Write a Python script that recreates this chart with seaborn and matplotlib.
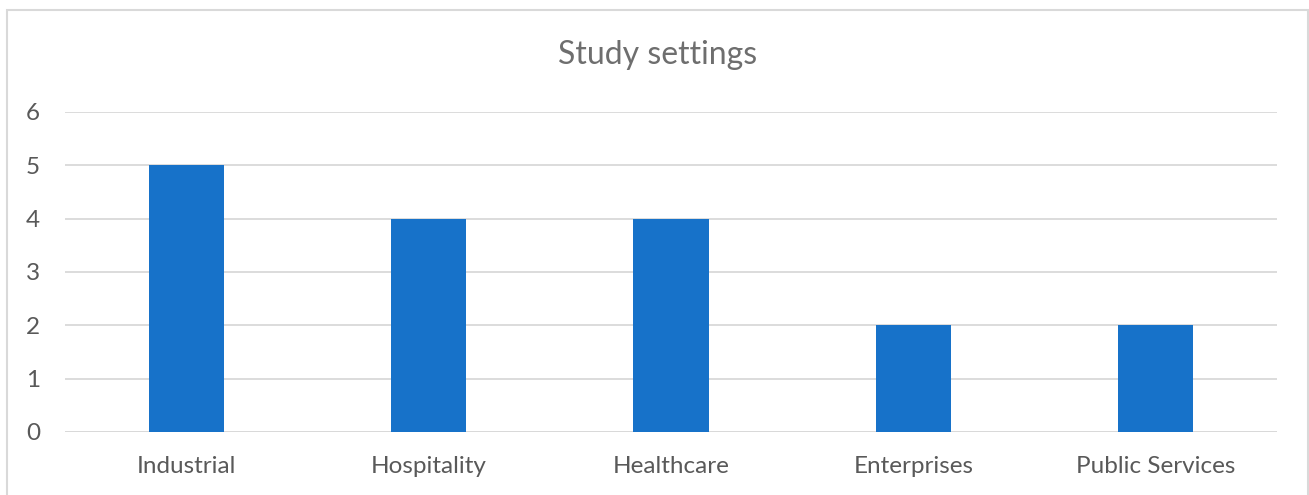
import matplotlib
matplotlib.use("Agg")
import matplotlib.pyplot as plt
import seaborn as sns
import pandas as pd
from matplotlib.patches import Rectangle

# chart data
settings = ["Industrial", "Hospitality", "Healthcare", "Enterprises", "Public Services"]
study_counts = [5, 4, 4, 2, 2]

df = pd.DataFrame({"setting": settings, "count": study_counts})

sns.set_theme(style="white")
plt.rcParams["font.family"] = ["Lato", "DejaVu Sans"]

fig = plt.figure(figsize=(13.09, 4.95), dpi=100)
ax = fig.add_axes([65 / 1309, 1 - 432 / 495, (1277 - 65) / 1309, (432 - 112) / 495])

sns.barplot(data=df, x="setting", y="count", color="#1772C9", width=0.31,
            saturation=1, linewidth=0, ax=ax)

ax.set_ylim(0, 6)
ax.set_yticks(range(0, 7))
ax.set_xlim(-0.5, len(settings) - 0.5)
ax.yaxis.grid(True, color="#D9D9D9", linewidth=1.3)
ax.set_axisbelow(True)
for s in ax.spines.values():
    s.set_visible(False)
ax.axhline(0, color="#D9D9D9", linewidth=1.3, zorder=0)
ax.set_xlabel("")
ax.set_ylabel("")
ax.tick_params(axis="both", length=0, labelsize=17.5, labelcolor="#595959")
ax.tick_params(axis="y", pad=18)
ax.tick_params(axis="x", pad=17)

fig.text(658 / 1309, 1 - 55 / 495, "Study settings", ha="center", va="center",
         fontsize=23, color="#6E6E6E")

# chart frame
fig.patches.append(Rectangle((7 / 1309, -0.1), (1308 - 7) / 1309, 1.1 - 10 / 495,
                             transform=fig.transFigure, fill=False,
                             edgecolor="#D9D9D9", linewidth=1.5))

fig.savefig("out.png", dpi=100)
